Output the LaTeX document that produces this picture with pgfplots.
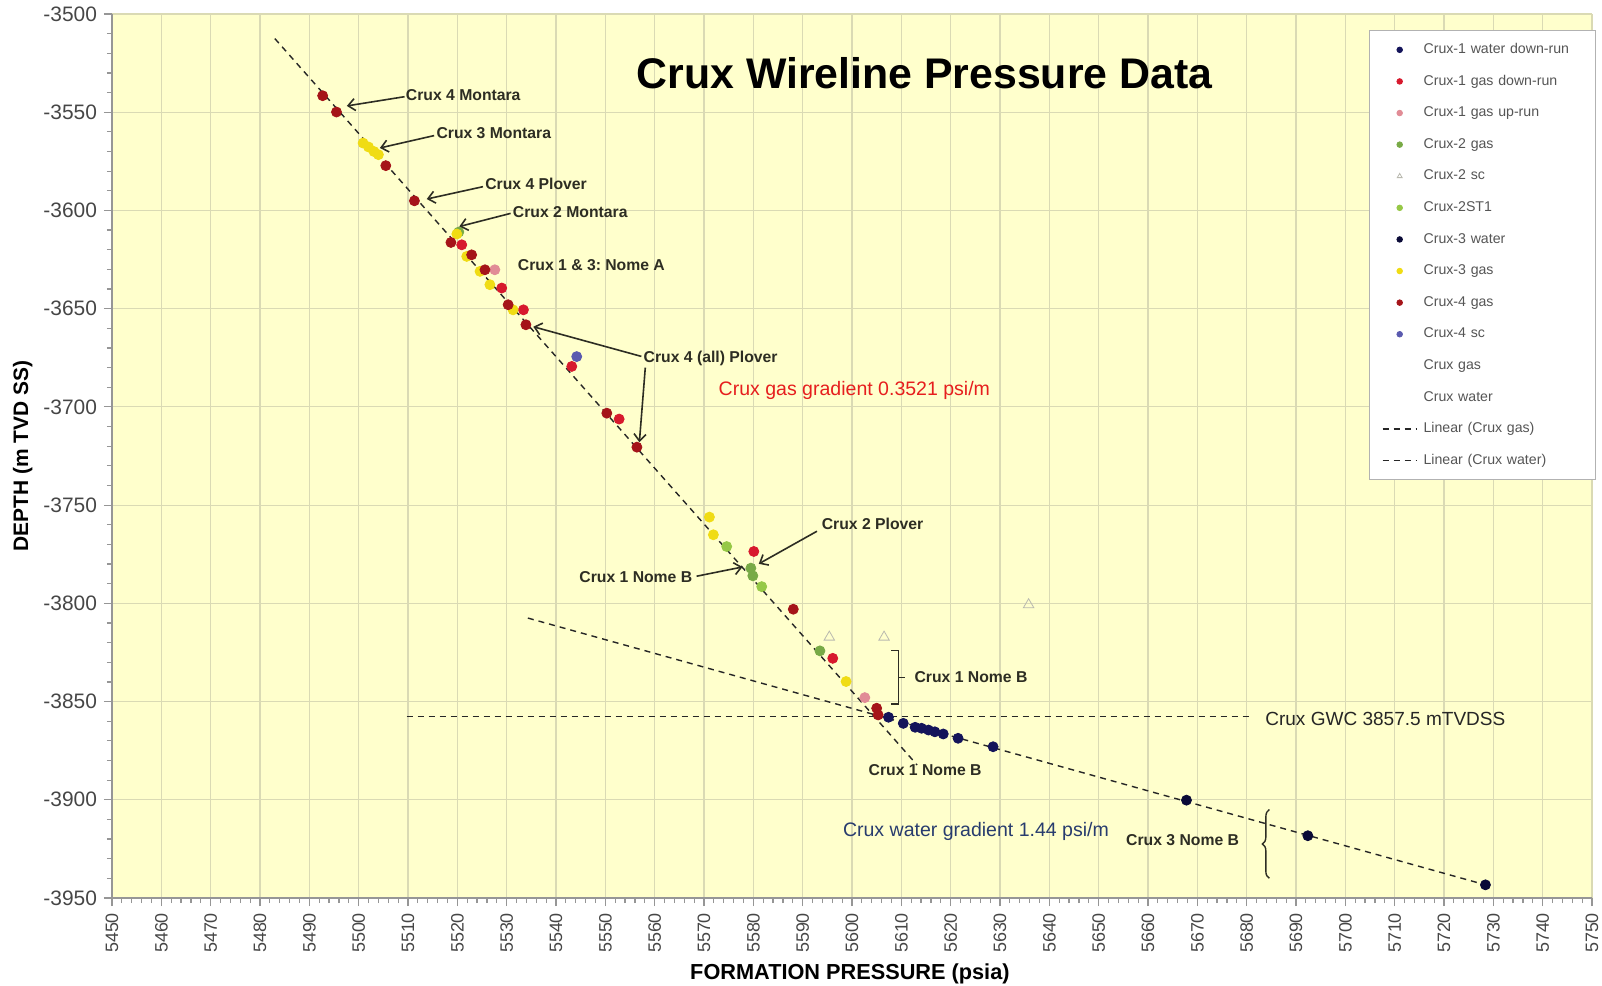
\documentclass[border=0pt]{standalone}
\usepackage{fontspec}
\setmainfont{Liberation Sans}
\usepackage{pgfplots}
\pgfplotsset{compat=1.18}
\usetikzlibrary{arrows.meta,decorations.pathreplacing}
\frenchspacing
\definecolor{bgc}{RGB}{255,255,204}
\definecolor{gridc}{RGB}{218,218,180}
\definecolor{axc}{RGB}{150,150,150}
\definecolor{tickc}{RGB}{70,70,70}
\definecolor{annc}{RGB}{45,45,35}
\definecolor{legtext}{RGB}{85,85,85}
\definecolor{cOneW}{RGB}{20,20,90}
\definecolor{cOneGD}{RGB}{215,25,45}
\definecolor{cOneGU}{RGB}{225,140,150}
\definecolor{cTwoG}{RGB}{120,170,70}
\definecolor{cTwoSC}{RGB}{185,185,175}
\definecolor{cTwoST}{RGB}{150,200,70}
\definecolor{cThreeW}{RGB}{10,10,55}
\definecolor{cThreeG}{RGB}{240,220,20}
\definecolor{cFourG}{RGB}{165,20,25}
\definecolor{cFourSC}{RGB}{90,90,175}
\definecolor{gasred}{RGB}{230,30,30}
\definecolor{watblue}{RGB}{40,60,110}
\begin{document}
\begin{tikzpicture}
\useasboundingbox (-56bp,-44bp) rectangle (745bp,449bp);
\begin{axis}[
  at={(0,0)}, anchor=south west,
  scale only axis, width=740bp, height=442bp,
  xmin=5450, xmax=5750, ymin=-3950, ymax=-3500,
  xtick distance=10, ytick distance=50,
  minor x tick num=4, minor y tick num=4,
  axis x line*=bottom, axis y line*=left,
  axis line style={axc, line width=1bp},
  every tick/.style={axc, line width=0.6bp},
  tick align=outside,
  major tick length=4bp, minor tick length=2.5bp,
  grid=major, major grid style={gridc, line width=0.6bp},
  axis background/.style={fill=bgc},
  /pgf/number format/assume math mode=true,
  /pgf/number format/1000 sep={},
  xticklabel style={rotate=90, anchor=east, font=\fontsize{9}{10}\selectfont, text=tickc},
  yticklabel style={font=\fontsize{10.5}{11}\selectfont, text=tickc},
  xlabel={\bfseries FORMATION PRESSURE (psia)},
  ylabel={\bfseries DEPTH (m TVD SS)},
  xlabel style={font=\fontsize{10.9}{12}\selectfont, at={(axis description cs:0.4986,0)}, anchor=center, yshift=-38bp},
  ylabel style={font=\fontsize{10.5}{12}\selectfont, at={(axis description cs:0,0.5)}, anchor=center, yshift=44.7bp},
  legend style={at={(axis description cs:1.0027,0.9814)}, anchor=north east,
    font=\fontsize{7.1}{8}\selectfont, text=legtext, draw=gray!60, fill=white,
    inner xsep=6.5bp, inner ysep=5bp, row sep=6.8bp,
    nodes={inner sep=1.5bp, text height=4.8bp, text depth=1.2bp},
    /tikz/every odd column/.append style={column sep=1.6bp},
    /tikz/every even column/.append style={text width=78bp}},
  legend cell align=left,
  every legend image post/.append style={mark size=1.4bp},
  mark size=2.5bp,
]
% trend lines (drawn first)
\addplot[forget plot, black!85, line width=0.7bp, dash pattern=on 3bp off 2.5bp] coordinates {(5483.0,-3512.5) (5613.2,-3882.3)};
\addplot[forget plot, black!85, line width=0.7bp, dash pattern=on 3bp off 2.5bp] coordinates {(5534.3,-3807.5) (5728.4,-3943.3)};
\addplot[forget plot, black!85, line width=0.7bp, dash pattern=on 3bp off 2.5bp] coordinates {(5509.7,-3857.5) (5680.4,-3857.5)};

\addplot[only marks, mark=*, color=cOneW] coordinates {
(5607.4,-3858.0) (5610.4,-3861.1) (5612.8,-3863.1) (5614.1,-3863.6) (5615.5,-3864.5)
(5616.8,-3865.4) (5618.5,-3866.5) (5621.5,-3868.7) (5628.6,-3873.0)};
\addlegendentry{Crux-1 water down-run}
\addplot[only marks, mark=*, color=cOneGD] coordinates {
(5520.9,-3617.5) (5529.0,-3639.5) (5533.4,-3650.6) (5543.2,-3679.4) (5552.8,-3706.2)
(5580.1,-3773.6) (5596.1,-3828.0)};
\addlegendentry{Crux-1 gas down-run}
\addplot[only marks, mark=*, color=cOneGU] coordinates {
(5527.6,-3630.2) (5602.6,-3848.0)};
\addlegendentry{Crux-1 gas up-run}
\addplot[only marks, mark=*, color=cTwoG] coordinates {
(5520.3,-3611.0) (5579.5,-3782.1) (5579.9,-3786.0) (5593.5,-3824.2)};
\addlegendentry{Crux-2 gas}
\addplot[only marks, mark=triangle, mark size=3bp, color=cTwoSC] coordinates {
(5595.4,-3817.2) (5606.5,-3817.2) (5635.8,-3800.7)};
\addlegendentry{Crux-2 sc}
\addplot[only marks, mark=*, color=cTwoST] coordinates {
(5574.6,-3771.1) (5581.7,-3791.5)};
\addlegendentry{Crux-2ST1}
\addplot[only marks, mark=*, color=cThreeW] coordinates {
(5667.8,-3900.2) (5692.4,-3918.3) (5728.4,-3943.3)};
\addlegendentry{Crux-3 water}
\addplot[only marks, mark=*, color=cThreeG] coordinates {
(5500.9,-3565.7) (5502.0,-3567.7) (5503.1,-3570.0) (5504.0,-3571.6) (5519.9,-3612.0)
(5521.9,-3623.4) (5524.6,-3631.0) (5526.6,-3637.8) (5531.3,-3650.6) (5571.1,-3756.1)
(5571.9,-3765.1) (5598.8,-3839.8)};
\addlegendentry{Crux-3 gas}
\addplot[only marks, mark=*, color=cFourG] coordinates {
(5492.7,-3541.6) (5495.5,-3549.9) (5505.5,-3577.2) (5511.3,-3595.1) (5518.7,-3616.3)
(5522.9,-3622.6) (5525.6,-3630.2) (5530.3,-3648.0) (5533.9,-3658.2) (5550.3,-3703.2)
(5556.4,-3720.5) (5588.1,-3803.0) (5605.0,-3853.4) (5605.3,-3856.8)};
\addlegendentry{Crux-4 gas}
\addplot[only marks, mark=*, color=cFourSC] coordinates {
(5544.2,-3674.4)};
\addlegendentry{Crux-4 sc}
\addlegendimage{empty legend}
\addlegendentry{Crux gas}
\addlegendimage{empty legend}
\addlegendentry{Crux water}
\addlegendimage{black!85, line width=0.7bp, dash pattern=on 3bp off 2.5bp}
\addlegendentry{Linear (Crux gas)}
\addlegendimage{black!85, line width=0.7bp, dash pattern=on 3bp off 2.5bp}
\addlegendentry{Linear (Crux water)}

% title
\node[font=\fontsize{21.5}{24}\selectfont\bfseries, text=black] at (axis cs:5614.7,-3530.2) {Crux Wireline Pressure Data};

% annotations
\begin{scope}[every node/.style={font=\fontsize{7.9}{9}\selectfont\bfseries, text=annc, inner sep=0pt}]
\node[anchor=west] at (axis cs:5509.5,-3541.1) {Crux 4 Montara};
\node[anchor=west] at (axis cs:5515.7,-3560.4) {Crux 3 Montara};
\node[anchor=west] at (axis cs:5525.6,-3586.4) {Crux 4 Plover};
\node[anchor=west] at (axis cs:5531.2,-3600.9) {Crux 2 Montara};
\node[anchor=west] at (axis cs:5532.2,-3628.0) {Crux 1 \& 3: Nome A};
\node[anchor=west] at (axis cs:5557.7,-3675.3) {Crux 4 (all) Plover};
\node[anchor=west] at (axis cs:5593.8,-3759.6) {Crux 2 Plover};
\node[anchor=east] at (axis cs:5567.7,-3786.7) {Crux 1 Nome B};
\node[anchor=west] at (axis cs:5612.6,-3837.7) {Crux 1 Nome B};
\node[anchor=west] at (axis cs:5603.3,-3885.0) {Crux 1 Nome B};
\node[anchor=west] at (axis cs:5655.5,-3920.4) {Crux 3 Nome B};
\end{scope}
\begin{scope}[annc, line width=0.8bp, -{Straight Barb[length=3.5bp,width=6bp]}]
\draw (axis cs:5509.3,-3542.1) -- (axis cs:5497.6,-3546.8);
\draw (axis cs:5515.3,-3561.9) -- (axis cs:5504.3,-3568.2);
\draw (axis cs:5525.2,-3587.9) -- (axis cs:5513.8,-3594.2);
\draw (axis cs:5530.8,-3601.5) -- (axis cs:5520.4,-3608.2);
\draw (axis cs:5557.3,-3674.3) -- (axis cs:5535.4,-3659.2);
\draw (axis cs:5558.1,-3680.0) -- (axis cs:5556.9,-3718.0);
\draw (axis cs:5592.9,-3763.3) -- (axis cs:5581.1,-3779.9);
\draw (axis cs:5568.5,-3786.2) -- (axis cs:5577.8,-3781.5);
\end{scope}
\draw[annc, line width=0.7bp] (axis cs:5608.0,-3824.1) -- (axis cs:5609.4,-3824.1) -- (axis cs:5609.4,-3851.2) -- (axis cs:5608.0,-3851.2);
\draw[annc, line width=0.7bp] (axis cs:5609.4,-3837.7) -- (axis cs:5610.8,-3837.7);
\draw[annc, line width=0.7bp, decorate, decoration={brace, amplitude=3.5bp}] (axis cs:5684.6,-3940.0) -- (axis cs:5684.6,-3905.0);

\node[anchor=west, font=\fontsize{9.8}{11}\selectfont, text=gasred, inner sep=0pt] at (axis cs:5572.9,-3691.5) {Crux gas gradient 0.3521 psi/m};
\node[anchor=west, font=\fontsize{9.8}{11}\selectfont, text=watblue, inner sep=0pt] at (axis cs:5598.1,-3916.2) {Crux water gradient 1.44 psi/m};
\node[anchor=west, font=\fontsize{9.55}{11}\selectfont, text=black!85, inner sep=0pt] at (axis cs:5683.7,-3859.0) {Crux GWC 3857.5 mTVDSS};
\end{axis}
\end{tikzpicture}
\end{document}
